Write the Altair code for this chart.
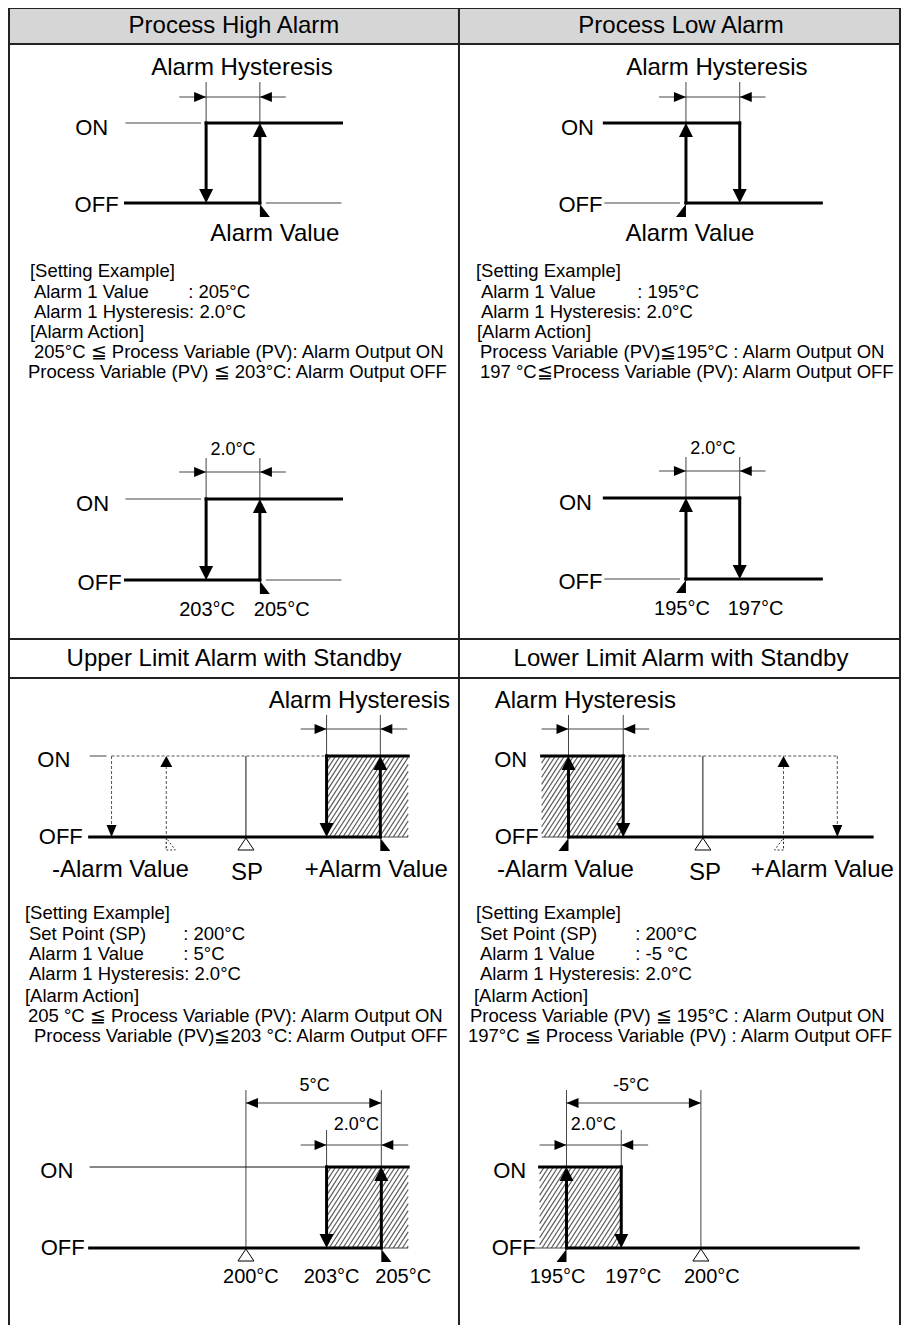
import altair as alt
import pandas as pd

FONT = "Liberation Sans"
X_MIN, X_MAX = 8, 905
Y_MIN, Y_MAX = 8, 1325
W, H = 893, Y_MAX - Y_MIN
XS = alt.Scale(domain=[X_MIN, X_MAX], nice=False, zero=False)
YS = alt.Scale(domain=[Y_MIN, Y_MAX], nice=False, zero=False, reverse=True)

# ---------------- table frame ----------------
FRAME_V = [9, 461, 904]
FRAME_H = [8, 44, 639, 678]
HEADER_BAND = [(9, 904, 8, 44)]
HEADERS = ["Process High Alarm", "Process Low Alarm",
           "Upper Limit Alarm with Standby", "Lower Limit Alarm with Standby"]
HEADER_X = [235, 684, 235, 684]
HEADER_Y = [26, 26, 659, 659]

# ---------------- diagram parameters ----------------
# simple hysteresis diagrams: (kind, xa, xb, y_on, y_off, x_start, x_end, dim_y, ext_top)
SIMPLE = [
    ("high", 207, 261, 123, 203, 126, 343, 97, 82),
    ("high", 207, 261, 499, 580, 126, 343, 472, 458),
    ("low", 689, 743, 123, 203, 607, 825, 97, 82),
    ("low", 689, 743, 498, 579, 607, 825, 471, 457),
]

# standby diagrams
C_TOP = dict(y_on=756, y_off=837, x0=90, neg_dn=112, neg_up=167, sp=247, xa=328, xb=382, hr=410, dim_y=729, ext_top=715, dim_l=302, dim_r=409)
D_TOP = dict(y_on=756, y_off=837, x1=876, pos_up=787, pos_dn=841, sp=706, xa=571, xb=626, hl=544, dim_y=729, ext_top=715, dim_l=544, dim_r=652)
C_BOT = dict(y_on=1167, y_off=1248, x0=90, sp=247, xa=328, xb=383, hr=410, d1=1103, d2=1145, top1=1090, top2=1130, dim_l=302, dim_r=410)
D_BOT = dict(y_on=1167, y_off=1248, x1=862, sp=704, xa=569, xb=624, hl=542, d1=1103, d2=1145, top1=1090, top2=1130, dim_l=542, dim_r=651)

THICK, THIN, GRAY, DASH, ARROWS, HATCH = [], [], [], [], [], []

for kind, xa, xb, yon, yoff, xs, xe, dy, et in SIMPLE:
    GRAY += [(xa, et, xa, yon), (xb, et, xb, yon), (xa - 27, dy, xb + 26, dy)]
    ARROWS += [("right", xa, dy), ("left", xb, dy)]
    if kind == "high":
        THICK += [(xa, yon, xe, yon), (xs, yoff, xb, yoff), (xa, yon, xa, yoff - 12), (xb, yoff, xb, yon + 12)]
        GRAY += [(xs, yon, xa - 5, yon), (xb + 6, yoff, xe, yoff)]
        ARROWS += [("down", xa, yoff), ("up", xb, yon), ("mark_r", xb, yoff + 1)]
    else:
        THICK += [(xs, yon, xb, yon), (xa, yoff, xe, yoff), (xa, yoff, xa, yon + 12), (xb, yon, xb, yoff - 12)]
        GRAY += [(xs, yoff, xa - 6, yoff)]
        ARROWS += [("up", xa, yon), ("down", xb, yoff), ("mark_l", xa, yoff + 1)]

p = C_TOP
THICK += [(p["x0"], p["y_off"], p["xb"], p["y_off"]), (p["xa"], p["y_on"], p["hr"], p["y_on"]),
          (p["xa"], p["y_on"], p["xa"], p["y_off"] - 12), (p["xb"], p["y_off"], p["xb"], p["y_on"] + 12)]
THIN += [(p["sp"], p["y_on"], p["sp"], p["y_off"])]
GRAY += [(p["x0"], p["y_on"], p["neg_dn"] - 5, p["y_on"]), (p["xb"], p["y_off"], p["hr"], p["y_off"]),
         (p["xa"], p["ext_top"], p["xa"], p["y_on"]), (p["xb"], p["ext_top"], p["xb"], p["y_on"]),
         (p["dim_l"], p["dim_y"], p["dim_r"], p["dim_y"])]
DASH += [(p["neg_dn"], p["y_on"], p["xa"], p["y_on"]), (p["neg_dn"], p["y_on"], p["neg_dn"], p["y_off"] - 10),
         (p["neg_up"], p["y_off"] + 12, p["neg_up"], p["y_on"] + 10)]
ARROWS += [("sdown", p["neg_dn"], p["y_off"]), ("sup", p["neg_up"], p["y_on"]), ("down", p["xa"], p["y_off"]),
           ("up", p["xb"], p["y_on"]), ("right", p["xa"], p["dim_y"]), ("left", p["xb"], p["dim_y"]),
           ("mark_r", p["xb"], p["y_off"] + 1), ("sp", p["sp"], p["y_off"] + 1), ("dmark_r", p["neg_up"], p["y_off"] + 1)]
HATCH.append((p["xa"], p["hr"], p["y_on"], p["y_off"]))

p = D_TOP
THICK += [(p["hl"], p["y_on"], p["xb"], p["y_on"]), (p["xa"], p["y_off"], p["x1"], p["y_off"]),
          (p["xa"], p["y_off"], p["xa"], p["y_on"] + 12), (p["xb"], p["y_on"], p["xb"], p["y_off"] - 12)]
THIN += [(p["sp"], p["y_on"], p["sp"], p["y_off"])]
GRAY += [(p["hl"], p["y_off"], p["xa"], p["y_off"]),
         (p["xa"], p["ext_top"], p["xa"], p["y_on"]), (p["xb"], p["ext_top"], p["xb"], p["y_on"]),
         (p["dim_l"], p["dim_y"], p["dim_r"], p["dim_y"])]
DASH += [(p["xb"], p["y_on"], p["pos_dn"], p["y_on"]), (p["pos_dn"], p["y_on"], p["pos_dn"], p["y_off"] - 10),
         (p["pos_up"], p["y_off"] + 12, p["pos_up"], p["y_on"] + 10)]
ARROWS += [("up", p["xa"], p["y_on"]), ("down", p["xb"], p["y_off"]), ("right", p["xa"], p["dim_y"]),
           ("left", p["xb"], p["dim_y"]), ("mark_l", p["xa"], p["y_off"] + 1), ("sp", p["sp"], p["y_off"] + 1),
           ("sup", p["pos_up"], p["y_on"]), ("sdown", p["pos_dn"], p["y_off"]), ("dmark_l", p["pos_up"], p["y_off"] + 1)]
HATCH.append((p["hl"], p["xb"], p["y_on"], p["y_off"]))

p = C_BOT
THICK += [(p["x0"], p["y_off"], p["xb"], p["y_off"]), (p["xa"], p["y_on"], p["hr"], p["y_on"]),
          (p["xa"], p["y_on"], p["xa"], p["y_off"] - 12), (p["xb"], p["y_off"], p["xb"], p["y_on"] + 12)]
THIN += [(p["x0"], p["y_on"], p["xa"], p["y_on"])]
GRAY += [(p["xb"], p["y_off"], p["hr"], p["y_off"]),
         (p["sp"], p["top1"], p["sp"], p["y_off"]), (p["xb"], p["top1"], p["xb"], p["y_on"]),
         (p["xa"], p["top2"], p["xa"], p["y_on"]), (p["sp"], p["d1"], p["xb"], p["d1"]),
         (p["dim_l"], p["d2"], p["dim_r"], p["d2"])]
ARROWS += [("left", p["sp"], p["d1"]), ("right", p["xb"], p["d1"]), ("right", p["xa"], p["d2"]),
           ("left", p["xb"], p["d2"]), ("down", p["xa"], p["y_off"]), ("up", p["xb"], p["y_on"]),
           ("mark_r", p["xb"], p["y_off"] + 1), ("sp", p["sp"], p["y_off"] + 1)]
HATCH.append((p["xa"], p["hr"], p["y_on"], p["y_off"]))

p = D_BOT
THICK += [(p["hl"], p["y_on"], p["xb"], p["y_on"]), (p["xa"], p["y_off"], p["x1"], p["y_off"]),
          (p["xa"], p["y_off"], p["xa"], p["y_on"] + 12), (p["xb"], p["y_on"], p["xb"], p["y_off"] - 12)]
GRAY += [(p["hl"] - 6, p["y_off"], p["xa"], p["y_off"]),
         (p["xa"], p["top1"], p["xa"], p["y_on"]), (p["sp"], p["top1"], p["sp"], p["y_off"]),
         (p["xb"], p["top2"], p["xb"], p["y_on"]), (p["xa"], p["d1"], p["sp"], p["d1"]),
         (p["dim_l"], p["d2"], p["dim_r"], p["d2"])]
ARROWS += [("left", p["xa"], p["d1"]), ("right", p["sp"], p["d1"]), ("right", p["xa"], p["d2"]),
           ("left", p["xb"], p["d2"]), ("up", p["xa"], p["y_on"]), ("down", p["xb"], p["y_off"]),
           ("mark_l", p["xa"], p["y_off"] + 1), ("sp", p["sp"], p["y_off"] + 1)]
HATCH.append((p["hl"], p["xb"], p["y_on"], p["y_off"]))

# ---------------- texts ----------------
BIG_LABELS = [
    ("Alarm Hysteresis", 243, 68), ("Alarm Value", 276, 234),
    ("Alarm Hysteresis", 720, 68), ("Alarm Value", 693, 234),
    ("Alarm Hysteresis", 361, 701), ("-Alarm Value", 121, 870), ("SP", 248, 873), ("+Alarm Value", 378, 870),
    ("Alarm Hysteresis", 588, 701), ("-Alarm Value", 568, 870), ("SP", 708, 873), ("+Alarm Value", 826, 870),
]
ONOFF = [
    ("ON", 92, 128), ("OFF", 97, 205), ("ON", 93, 504), ("OFF", 100, 583),
    ("ON", 580, 128), ("OFF", 583, 205), ("ON", 578, 503), ("OFF", 583, 582),
    ("ON", 54, 760), ("OFF", 61, 837), ("ON", 57, 1171), ("OFF", 63, 1248),
    ("ON", 513, 760), ("OFF", 519, 837), ("ON", 512, 1171), ("OFF", 516, 1248),
]
TEMPS = [
    ("203°C", 208, 610), ("205°C", 283, 610), ("195°C", 685, 609), ("197°C", 759, 609),
    ("200°C", 252, 1277), ("203°C", 333, 1277), ("205°C", 405, 1277),
    ("195°C", 560, 1277), ("197°C", 636, 1277), ("200°C", 715, 1277),
]
DIMS = [
    ("2.0°C", 234, 450), ("2.0°C", 716, 449), ("5°C", 316, 1086), ("2.0°C", 358, 1125),
    ("-5°C", 634, 1086), ("2.0°C", 596, 1125),
]
BODY = [
    ("[Setting Example]", 30, 271), ("Alarm 1 Value", 34, 292), (": 205°C", 189, 292),
    ("Alarm 1 Hysteresis: 2.0°C", 34, 312), ("[Alarm Action]", 30, 332),
    ("205°C ≦  Process Variable (PV): Alarm Output ON", 34, 352),
    ("Process Variable (PV) ≦ 203°C: Alarm Output OFF", 28, 372),
    ("[Setting Example]", 478, 271), ("Alarm 1 Value", 483, 292), (": 195°C", 640, 292),
    ("Alarm 1 Hysteresis: 2.0°C", 483, 312), ("[Alarm Action]", 479, 332),
    ("Process Variable (PV)≦195°C : Alarm Output ON", 482, 352),
    ("197 °C≦Process Variable (PV): Alarm Output OFF", 482, 372),
    ("[Setting Example]", 25, 913), ("Set Point (SP)", 29, 934), (": 200°C", 184, 934),
    ("Alarm 1 Value", 29, 954), (": 5°C", 184, 954), ("Alarm 1 Hysteresis: 2.0°C", 29, 974),
    ("[Alarm Action]", 25, 996), ("205 °C ≦ Process Variable (PV): Alarm Output ON", 28, 1016),
    ("Process Variable (PV)≦203 °C: Alarm Output OFF", 34, 1036),
    ("[Setting Example]", 478, 913), ("Set Point (SP)", 482, 934), (": 200°C", 638, 934),
    ("Alarm 1 Value", 482, 954), (": -5 °C", 638, 954), ("Alarm 1 Hysteresis: 2.0°C", 482, 974),
    ("[Alarm Action]", 476, 996), ("Process Variable (PV) ≦ 195°C : Alarm Output ON", 472, 1016),
    ("197°C ≦ Process Variable (PV) : Alarm Output OFF", 470, 1036),
]

SHAPES = {
    "down": "M0,0L-7,-14L7,-14Z", "up": "M0,0L-7,14L7,14Z",
    "right": "M0,0L-12,-5L-12,5Z", "left": "M0,0L12,-5L12,5Z",
    "sdown": "M0,0L-5,-12L5,-12Z", "sup": "M0,0L-6,11L6,11Z",
    "mark_r": "M0,0L0,13L10,13Z", "mark_l": "M0,0L0,13L-10,13Z",
    "sp": "M0,0L-8,12L8,12Z", "dmark_r": "M0,0L0,12L9,12Z", "dmark_l": "M0,0L0,12L-9,12Z",
}


def hatch_lines(rects, step=4.6, s=0.65):
    out = []
    for x0, x1, y0, y1 in rects:
        c = x0 + s * y0
        while c < x1 + s * y1:
            ylo = max(y0, (c - x1) / s)
            yhi = min(y1, (c - x0) / s)
            if ylo < yhi:
                out.append((c - s * yhi, yhi, c - s * ylo, ylo))
            c += step
    return out


def enc_xy():
    return dict(x=alt.X("x:Q", scale=XS, axis=None), y=alt.Y("y:Q", scale=YS, axis=None))


def rules(rows, color, width, dash=None, cap="butt"):
    df = pd.DataFrame(rows, columns=["x", "y", "x2", "y2"])
    kw = dict(color=color, strokeWidth=width, strokeCap=cap)
    if dash:
        kw["strokeDash"] = dash
    return alt.Chart(df).mark_rule(**kw).encode(x2="x2:Q", y2="y2:Q", **enc_xy())


def rects(rows, fill):
    df = pd.DataFrame(rows, columns=["x", "x2", "y", "y2"])
    return alt.Chart(df).mark_rect(fill=fill).encode(x2="x2:Q", y2="y2:Q", **enc_xy())


def texts(rows, size, align="left"):
    df = pd.DataFrame(rows, columns=["t", "x", "y"])
    return alt.Chart(df).mark_text(align=align, baseline="middle", fontSize=size, font=FONT,
                                   color="black").encode(text="t:N", **enc_xy())


def arrows(kind):
    rows = [(x, y) for k, x, y in ARROWS if k == kind]
    df = pd.DataFrame(rows, columns=["x", "y"])
    if kind == "sp":
        mk = dict(filled=True, fill="white", stroke="black", strokeWidth=1)
    elif kind.startswith("dmark"):
        mk = dict(filled=False, fill="white", stroke="#333", strokeWidth=1, strokeDash=[2, 2])
    else:
        mk = dict(filled=True, fill="black", strokeWidth=0)
    return alt.Chart(df).mark_point(shape=SHAPES[kind], size=4, opacity=1, **mk).encode(**enc_xy())


frame_rows = [(x, 8, x, 1331) for x in FRAME_V] + [(9, y, 904, y) for y in FRAME_H]

layers = [
    rects(HEADER_BAND, "#d6d6d6"),
    rules(hatch_lines(HATCH), "#5a5a5a", 1.2),
    rules(frame_rows, "#222222", 2),
    rules(GRAY, "#444444", 1),
    rules(THIN, "#111111", 1),
    rules(DASH, "#555555", 1, dash=[3, 2]),
    rules(THICK, "black", 3, cap="square"),
    texts(list(zip(HEADERS, HEADER_X, HEADER_Y)), 24, "center"),
    texts(BIG_LABELS, 24, "center"),
    texts(ONOFF, 22, "center"),
    texts(TEMPS, 20, "center"),
    texts(DIMS, 18, "center"),
    texts(BODY, 18.5, "left"),
] + [arrows(k) for k in SHAPES]

chart = alt.layer(*layers).properties(
    width=W, height=H, padding=0, autosize="none", background="white"
).configure_view(stroke=None)

chart.save("out.html", embed_options={"renderer": "svg", "actions": False})
